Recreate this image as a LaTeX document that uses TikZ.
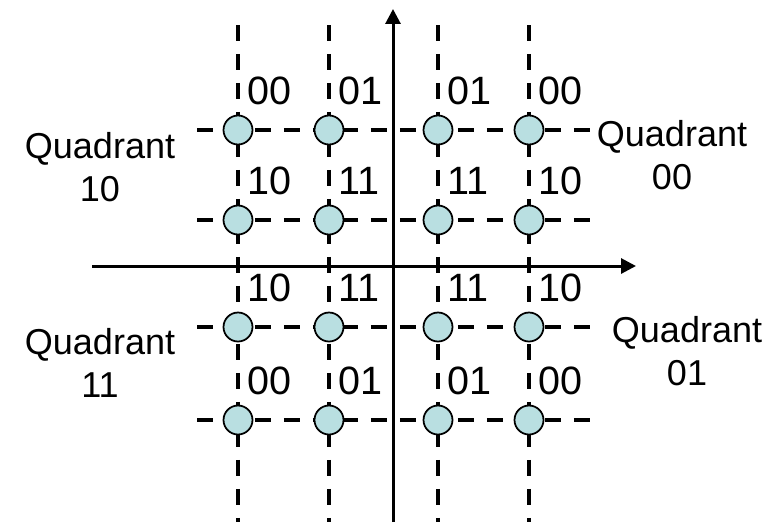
\documentclass[tikz,border=0pt]{standalone}
\usepackage{fontspec}
\setmainfont{Liberation Sans}
\usetikzlibrary{arrows.meta}
\usetikzlibrary{positioning}

\definecolor{symfill}{HTML}{B9DFE1}

\tikzset{
  sym/.style={circle, draw, fill=symfill, line width=1pt, minimum size=0.58cm, inner sep=0pt},
  bits/.style={inner sep=0pt, font=\fontsize{22.5}{26}\selectfont},
  quad/.style={inner sep=0pt, align=center, font=\fontsize{20.5}{24.4}\selectfont},
  gridline/.style={line width=2pt, dash pattern=on 9pt off 7.5pt},
  axis/.style={line width=1.7pt, -{Triangle[length=8.5pt, width=8.5pt]}}
}

\begin{document}
\begin{tikzpicture}[x=0.02cm, y=-0.02cm]
        \useasboundingbox (0,0) rectangle (783,522);

        % dashed grid
        \draw[gridline] (238,25) -- (238,522);
        \draw[gridline] (329,25) -- (329,522);
        \draw[gridline] (438,25) -- (438,522);
        \draw[gridline] (529,25) -- (529,522);
        \draw[gridline] (197,130) -- (590,130);
        \draw[gridline] (197,220) -- (590,220);
        \draw[gridline] (197,327) -- (590,327);
        \draw[gridline] (197,420) -- (590,420);

        % axes
        \coordinate (xl) at (92,266);
        \coordinate (xr) at (636,266);
        \coordinate (yb) at (393,522);
        \coordinate (yt) at (393,9);
        \draw[axis] (xl) -- (xr);
        \draw[axis] (yb) -- (yt);

        % constellation points
        \node[sym] (p11) at (238,130) {};
        \node[sym] (p12) at (329,130) {};
        \node[sym] (p13) at (438,130) {};
        \node[sym] (p14) at (529,130) {};
        \node[sym] (p21) at (238,220) {};
        \node[sym] (p22) at (329,220) {};
        \node[sym] (p23) at (438,220) {};
        \node[sym] (p24) at (529,220) {};
        \node[sym] (p31) at (238,327) {};
        \node[sym] (p32) at (329,327) {};
        \node[sym] (p33) at (438,327) {};
        \node[sym] (p34) at (529,327) {};
        \node[sym] (p41) at (238,420) {};
        \node[sym] (p42) at (329,420) {};
        \node[sym] (p43) at (438,420) {};
        \node[sym] (p44) at (529,420) {};

        % bit labels
        \node[bits, above right=0.28cm and -0.04cm of p11] (b11) {00};
        \node[bits, above right=0.28cm and -0.04cm of p12] (b12) {01};
        \node[bits, above right=0.28cm and -0.04cm of p13] (b13) {01};
        \node[bits, above right=0.28cm and -0.04cm of p14] (b14) {00};
        \node[bits, above right=0.28cm and -0.04cm of p21] (b21) {10};
        \node[bits, above right=0.28cm and -0.04cm of p22] (b22) {11};
        \node[bits, above right=0.28cm and -0.04cm of p23] (b23) {11};
        \node[bits, above right=0.28cm and -0.04cm of p24] (b24) {10};
        \node[bits, above right=0.28cm and -0.04cm of p31] (b31) {10};
        \node[bits, above right=0.28cm and -0.04cm of p32] (b32) {11};
        \node[bits, above right=0.28cm and -0.04cm of p33] (b33) {11};
        \node[bits, above right=0.28cm and -0.04cm of p34] (b34) {10};
        \node[bits, above right=0.28cm and -0.04cm of p41] (b41) {00};
        \node[bits, above right=0.28cm and -0.04cm of p42] (b42) {01};
        \node[bits, above right=0.28cm and -0.04cm of p43] (b43) {01};
        \node[bits, above right=0.28cm and -0.04cm of p44] (b44) {00};

        % quadrant names
        \node[quad] (q10) at (100,167) {Quadrant\\10};
        \node[quad] (q00) at (672,155) {Quadrant\\00};
        \node[quad] (q11) at (100,363) {Quadrant\\11};
        \node[quad] (q01) at (687,351) {Quadrant\\01};
    \end{tikzpicture}
\end{document}
